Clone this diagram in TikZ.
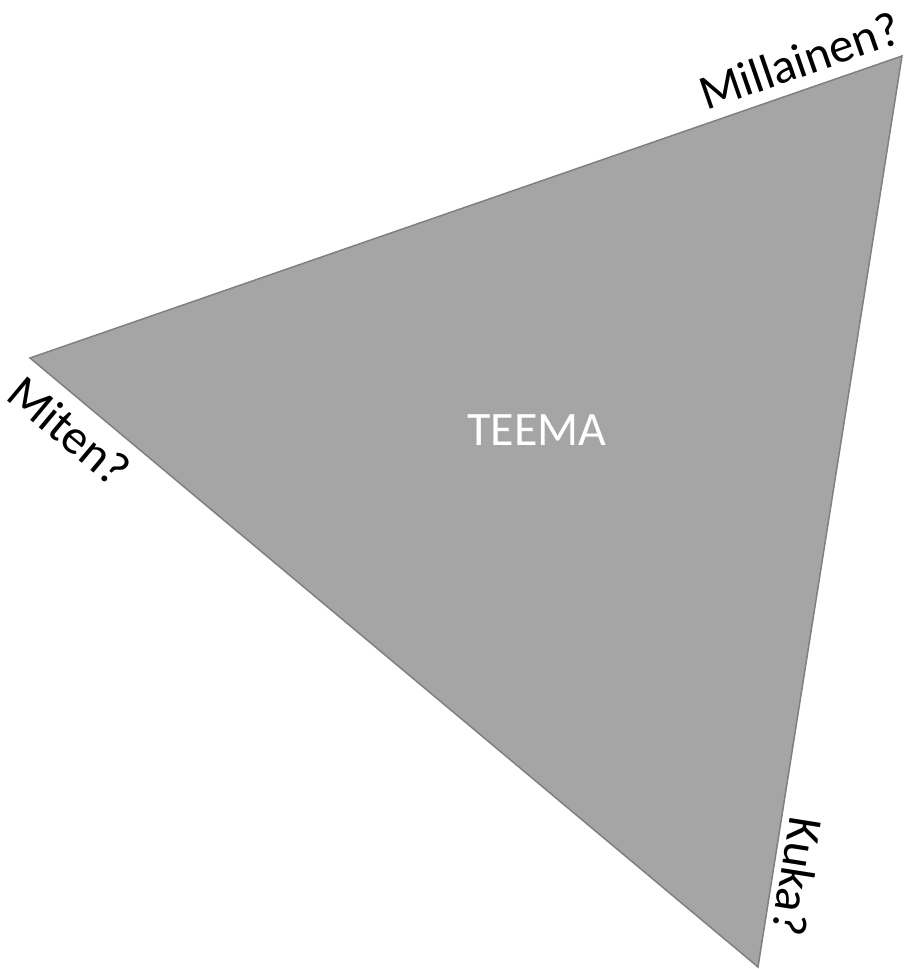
\documentclass[tikz,border=0pt]{standalone}
\usepackage{fontspec}
\setmainfont{Carlito}
\definecolor{trifill}{HTML}{A5A5A5}
\definecolor{triedge}{HTML}{808080}
\begin{document}
\begin{tikzpicture}[x=1pt,y=1pt,
  lbl/.style={inner sep=0pt,font=\fontsize{49}{54}\selectfont,text=black}]
\useasboundingbox (0,0) rectangle (909,969);
\coordinate (A) at (902,913);
\coordinate (B) at (30,611);
\coordinate (C) at (758,2);
\draw[fill=trifill,draw=triedge,line width=1.5pt,line join=miter] (A) -- (B) -- (C) -- cycle;
\node[text=white,font=\fontsize{48}{54}\selectfont] (teema) at (537,539) {TEEMA};
\node[lbl,rotate=19.1,anchor=base east] (millainen) at (904,927) {Millainen?};
\node[lbl,rotate=-39.9,anchor=north west] (miten) at (26,597) {Miten?};
\node[lbl,rotate=-99,anchor=north west] (kuka) at (824,148) {Kuka?};
\end{tikzpicture}
\end{document}
